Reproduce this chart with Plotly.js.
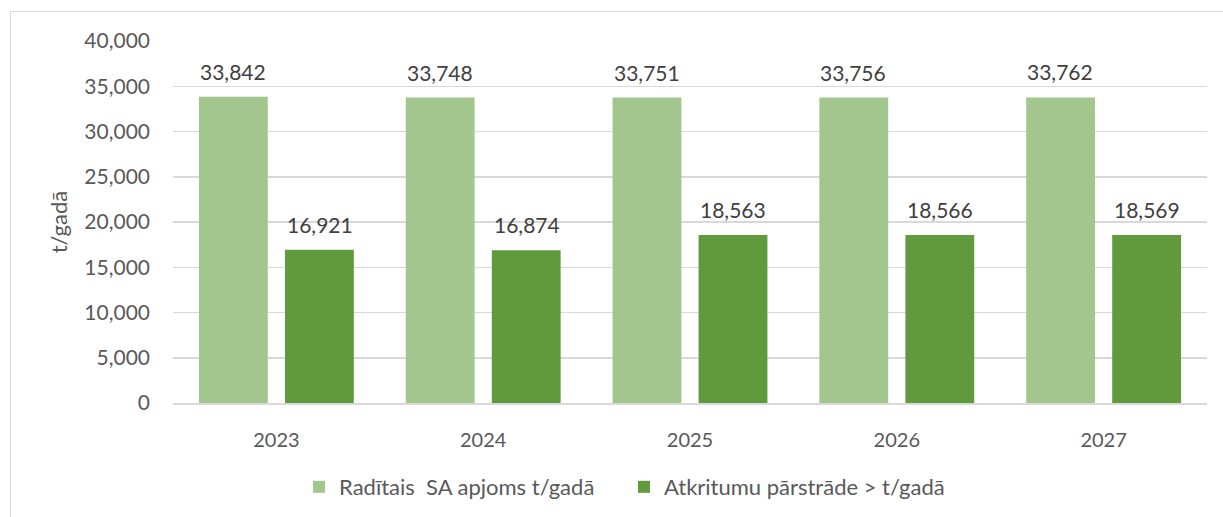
<!DOCTYPE html>
<html>
<head>
<meta charset="utf-8">
<script src="https://cdn.plot.ly/plotly-3.0.1.min.js"></script>
<style>
html,body{margin:0;padding:0;background:#fff;}
#frame{position:absolute;left:10px;top:11px;width:1230px;height:530px;border:1px solid #D9D9D9;box-sizing:border-box;}
#chart{position:absolute;left:0;top:0;width:1223px;height:517px;}
</style>
</head>
<body>
<div id="frame"></div>
<div id="chart"></div>
<script>
const years = ['2023', '2024', '2025', '2026', '2027'];
const generated = [33842, 33748, 33751, 33756, 33762];
const recycled = [16921, 16874, 18563, 18566, 18569];
const seriesNames = ['Radītais  SA apjoms t/gadā', 'Atkritumu pārstrāde > t/gadā'];
const yTicks = [0, 5000, 10000, 15000, 20000, 25000, 30000, 35000, 40000];

const font = 'Lato, "Open Sans", sans-serif';
const grey = '#595959';

const traces = [
  {type: 'bar', x: years, y: generated, name: seriesNames[0], marker: {color: '#A3C68F'}, hoverinfo: 'skip'},
  {type: 'bar', x: years, y: recycled, name: seriesNames[1], marker: {color: '#609A3D'}, hoverinfo: 'skip'}
];

const fmt = v => v.toLocaleString('en-US');
const annotations = [];
years.forEach((yr, i) => {
  [[generated, -0.21], [recycled, 0.21]].forEach(([arr, off]) => {
    annotations.push({
      x: i + off, y: arr[i], xref: 'x', yref: 'y',
      text: fmt(arr[i]), showarrow: false, yanchor: 'bottom', yshift: 11,
      font: {family: font, size: 21, color: '#404040'}
    });
  });
});

const layout = {
  width: 1223, height: 517,
  margin: {l: 173, r: 16, t: 41, b: 114},
  paper_bgcolor: 'rgba(0,0,0,0)', plot_bgcolor: '#fff',
  barmode: 'group', bargap: 0.168, bargroupgap: 0.2,
  showlegend: true,
  legend: {orientation: 'h', xref: 'container', yref: 'container', x: 0.2445, xanchor: 'left',
    y: 0.058, yanchor: 'middle',
    font: {family: font, size: 22, color: grey}, itemwidth: 30, tracegroupgap: 0,
    entrywidth: 280, entrywidthmode: 'pixels'},
  xaxis: {type: 'category', showgrid: false, showline: true, linecolor: '#D9D9D9', linewidth: 1.5,
    ticks: '', ticklabelstandoff: 18, tickfont: {family: font, size: 20, color: grey}},
  yaxis: {range: [0, 40000], tickvals: yTicks, tickformat: ',', showgrid: true, gridcolor: '#D9D9D9', gridwidth: 1.5,
    zeroline: false, showline: false, ticks: '', ticklabelstandoff: 22,
    tickfont: {family: font, size: 21, color: grey},
    title: {text: 't/gadā', standoff: 10, font: {family: font, size: 22, color: grey}}},
  annotations: annotations
};

Plotly.newPlot('chart', traces, layout, {displayModeBar: false, staticPlot: true});
</script>
</body>
</html>
